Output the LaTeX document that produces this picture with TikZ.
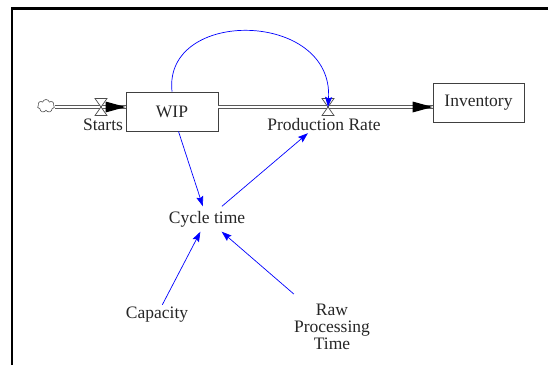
\documentclass[tikz,border=0pt]{standalone}
\usepackage{fontspec}
\setmainfont{Liberation Serif}
\newfontfamily\lblfont{Liberation Serif}
\usetikzlibrary{arrows.meta,shapes.symbols,calc}
\begin{document}
\begin{tikzpicture}[x=1pt,y=-1pt,
  lbl/.style={font=\lblfont\fontsize{17.5}{17}\selectfont, text=black!85},
  stock/.style={draw=black!75, line width=0.9pt, minimum width=92pt, minimum height=39pt, inner sep=0pt, lbl},
  pipe/.style={draw=black!65, line width=0.8pt, double=white, double distance=2.4pt},
  conn/.style={blue, line width=0.7pt, -{Stealth[length=10pt,width=7pt,inset=1.5pt]}},
  valvebox/.style={draw=black!70, fill=white, line width=0.7pt},
  pipetip/.style={fill=black},
]
\useasboundingbox (0,0) rectangle (548,365);
\draw[line width=2.5pt] (12,365) -- (12,8.7) -- (548,8.7);

\node[stock] (wip) at (172,111.5) {WIP};
\node[stock, minimum width=91pt] (inv) at (478.5,102.5) {Inventory};
\node[cloud, cloud puffs=7, aspect=1.3, draw=black!70, line width=0.6pt, minimum width=17pt, minimum height=13pt, inner sep=0pt] (cl) at (46,106) {};
\coordinate (sv) at (101,107);
\coordinate (pv) at (328,107);
\node[lbl] (st) at (103,125) {Starts};
\node[lbl, inner sep=0pt, minimum height=16pt] (prl) at (324,125) {Production Rate};
\node[lbl, inner xsep=0pt, minimum height=25pt] (cyc) at (207,219) {Cycle time};
\node[lbl, inner sep=0pt, minimum height=20pt] (cap) at (157,315) {Capacity};
\node[lbl, align=center, inner xsep=0pt, minimum height=70pt] (raw) at (332,327) {Raw\\Processing\\Time};

\draw[pipe] (cl.east |- sv) -- (sv) -- (wip.west |- sv);
\fill[pipetip] (wip.west |- sv) -- ++(-20,-5.5) -- ++(0,11) -- cycle;
\draw[pipe] (wip.east |- pv) -- (inv.west |- pv);
\fill[pipetip] (inv.west |- pv) -- ++(-20,-5.5) -- ++(0,11) -- cycle;

\draw[valvebox] ($(sv)+(-6,-8.5)$) -- ++(12,0) -- ++(-12,17) -- ++(12,0) -- cycle;
\draw[valvebox] ($(pv)+(-6,-8.5)$) -- ++(12,0) -- ++(-12,17) -- ++(12,0) -- cycle;

\draw[conn] (wip.north) .. controls +(-9,-84) and +(6,-97) .. (pv);
\draw[conn] (wip) -- (cyc);
\draw[conn] (cyc) -- (prl.207);
\draw[conn] (cap) -- (cyc);
\draw[conn] (raw) -- (cyc);
\end{tikzpicture}
\end{document}
